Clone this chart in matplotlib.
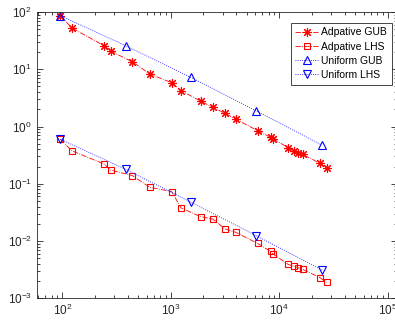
import numpy as np
import matplotlib
matplotlib.use("Agg")
import matplotlib.pyplot as plt

plt.rcParams['font.family'] = ['Liberation Sans', 'DejaVu Sans']

# adaptive sampling: number of samples and errors
n_adapt = [96, 122, 242, 279, 442, 640, 1019, 1242, 1880, 2430, 3160, 3965,
           6310, 8300, 8700, 12100, 13800, 15000, 16400, 23700, 27300]
gub_adapt = [86, 53, 25.8, 20.8, 13.5, 8.26, 5.82, 4.22, 2.79, 2.17, 1.70, 1.35,
             0.845, 0.65, 0.61, 0.428, 0.379, 0.349, 0.327, 0.228, 0.187]
lhs_adapt = [0.60, 0.378, 0.222, 0.174, 0.139, 0.087, 0.073, 0.038, 0.0267, 0.0243,
             0.0163, 0.0142, 0.0091, 0.0066, 0.0060, 0.0039, 0.0036, 0.0034,
             0.0032, 0.0023, 0.0019]

# uniform refinement
n_unif = [96, 384, 1536, 6144, 24576]
gub_unif = [86, 25.8, 7.2, 1.87, 0.476]
lhs_unif = [0.60, 0.179, 0.0475, 0.0124, 0.00313]

labels = ['Adpative GUB', 'Adpative LHS', 'Uniform GUB', 'Uniform LHS']

fig = plt.figure(figsize=(3.95, 3.22), dpi=100)
ax = fig.add_axes([36.7/395, 1-298.3/322, (397-36.7)/395, (298.3-12)/322])

lw = 0.6
asterisk = (8, 2, 0)  # matlab style '*'
ax.loglog(n_adapt, gub_adapt, '-.', color='red', marker=asterisk, ms=6.5, lw=lw,
          mew=0.8, label=labels[0])
ax.loglog(n_adapt, lhs_adapt, '-.', color='red', marker='s', ms=5, lw=lw,
          mfc='none', mew=0.8, label=labels[1])
ax.loglog(n_unif, gub_unif, ':', color='blue', marker='^', ms=6, lw=lw,
          mfc='none', mew=0.8, label=labels[2])
ax.loglog(n_unif, lhs_unif, ':', color='blue', marker='v', ms=6, lw=lw,
          mfc='none', mew=0.8, label=labels[3])

ax.set_xlim(10**1.764, 10**5.085)
ax.set_ylim(1e-3, 1e2)
ax.set_xticks([1e2, 1e3, 1e4, 1e5])
ax.set_yticks([1e-3, 1e-2, 1e-1, 1e0, 1e1, 1e2])

ax.tick_params(which='both', direction='in', top=True, right=True,
               labelsize=8.5, colors='0.15', width=0.6)
ax.tick_params(which='major', length=4)
ax.tick_params(which='minor', length=2)
for s in ax.spines.values():
    s.set_linewidth(0.6)
    s.set_color('0.15')

leg = ax.legend(loc='upper right', bbox_to_anchor=(391.7/395, 1-22.7/322),
                bbox_transform=fig.transFigure, borderaxespad=0, fontsize=7.5,
                fancybox=False, edgecolor='0.15', framealpha=1, handlelength=2.2,
                borderpad=0.45, labelspacing=0.4, handletextpad=0.3)
leg.get_frame().set_linewidth(0.6)

fig.savefig('out.png', dpi=100)
